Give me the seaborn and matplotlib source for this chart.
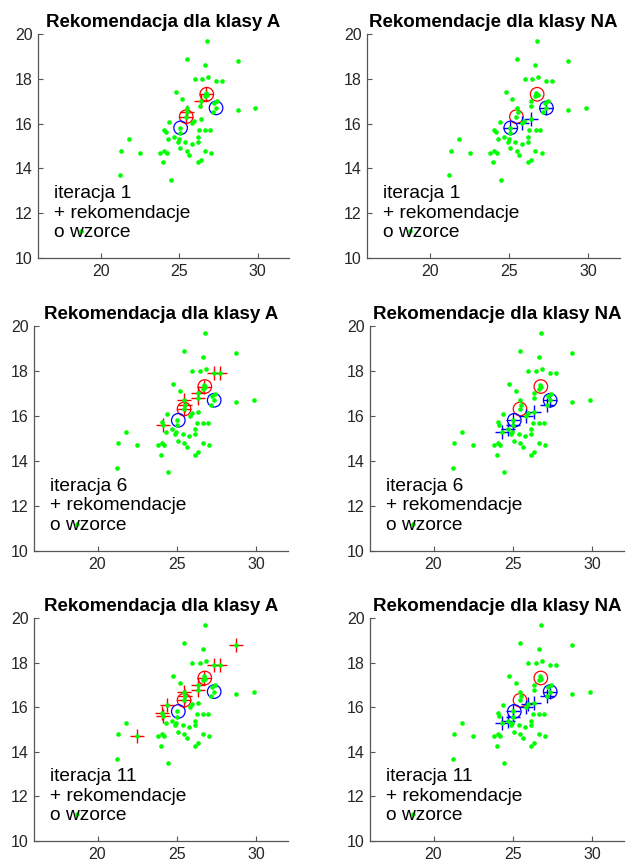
import matplotlib
matplotlib.use("Agg")
import matplotlib.pyplot as plt
import seaborn as sns
import pandas as pd

# ---------------- data ----------------
pts_x = [26.76, 25.47, 26.65, 28.72, 25.98, 26.44, 26.84, 27.35, 27.73, 24.78,
         25.18, 26.70, 26.80, 26.65, 26.36, 27.43, 27.24, 26.34, 25.47, 27.35,
         28.72, 29.83, 27.14, 25.52, 25.45, 25.94, 25.81, 26.36, 24.38, 25.03,
         24.06, 24.15, 26.25, 26.67, 26.95, 21.81, 24.67, 24.29, 25.03, 24.97,
         24.91, 25.37, 26.17, 26.17, 25.79, 21.31, 22.51, 23.79, 24.06, 24.21,
         25.07, 25.47, 25.64, 26.65, 27.05, 26.36, 26.17, 23.98, 21.20, 24.46,
         18.74]
pts_y = [19.70, 18.90, 18.60, 18.81, 18.00, 18.00, 18.09, 17.91, 17.91, 17.40,
         17.10, 17.38, 17.28, 17.22, 17.01, 16.99, 16.90, 16.79, 16.69, 16.70,
         16.60, 16.70, 16.51, 16.51, 16.31, 16.13, 16.01, 16.19, 16.09, 15.81,
         15.72, 15.61, 15.70, 15.70, 15.70, 15.30, 15.40, 15.30, 15.58, 15.30,
         15.19, 15.19, 15.40, 15.19, 15.09, 14.79, 14.69, 14.69, 14.79, 14.69,
         14.90, 14.79, 14.60, 14.79, 14.69, 14.39, 14.28, 14.28, 13.69, 13.49,
         11.19]

# class prototypes ("wzorce")
protoA_x = [25.45, 26.76]
protoA_y = [16.31, 17.31]
protoNA_x = [25.09, 27.35]
protoNA_y = [15.81, 16.70]

# recommendations with the iteration in which they first appear
recA_x = [26.70, 26.36, 25.45, 25.52, 27.35, 27.73, 26.34, 25.47, 24.15, 28.72, 24.38, 24.06, 22.51]
recA_y = [17.30, 17.01, 16.31, 16.51, 17.91, 17.91, 16.79, 16.69, 15.61, 18.81, 16.09, 15.72, 14.69]
recA_it = [1, 1, 1, 1, 6, 6, 6, 6, 6, 11, 11, 11, 11]

recNA_x = [27.35, 26.36, 25.81, 25.03, 27.14, 25.03, 24.67, 24.29, 25.94]
recNA_y = [16.70, 16.19, 16.01, 15.81, 16.51, 15.58, 15.40, 15.30, 16.13]
recNA_it = [1, 1, 1, 1, 6, 6, 6, 6, 11]

iterations = [1, 6, 11]
titles = ["Rekomendacja dla klasy A", "Rekomendacje dla klasy NA"]
annot = "iteracja {}\n+ rekomendacje\no wzorce"
xticks = [20, 25, 30]
yticks = [10, 12, 14, 16, 18, 20]

# ---------------- layout ----------------
sns.set_theme(style="white")
plt.rcParams['font.family'] = ['Liberation Sans', 'DejaVu Sans']

W, H = 626, 865
fig = plt.figure(figsize=(W / 100, H / 100), dpi=100)

# (left, right, top, bottom) in pixels for each panel
boxes = [
    [(38, 289, 34, 258), (367, 620, 34, 258)],
    [(34, 288, 326, 551), (370, 624, 326, 551)],
    [(34, 288, 618, 841), (370, 624, 618, 841)],
]

pts = pd.DataFrame({"x": pts_x, "y": pts_y})
pA = pd.DataFrame({"x": protoA_x, "y": protoA_y})
pNA = pd.DataFrame({"x": protoNA_x, "y": protoNA_y})
rA = pd.DataFrame({"x": recA_x, "y": recA_y, "it": recA_it})
rNA = pd.DataFrame({"x": recNA_x, "y": recNA_y, "it": recNA_it})

for r, it in enumerate(iterations):
    for c in range(2):
        l, rr, t, b = boxes[r][c]
        ax = fig.add_axes([l / W, 1 - b / H, (rr - l) / W, (b - t) / H])
        sns.scatterplot(data=pA, x="x", y="y", ax=ax, marker="o", s=95,
                        facecolor="none", edgecolor="red", linewidth=0.9,
                        zorder=2, legend=False)
        sns.scatterplot(data=pNA, x="x", y="y", ax=ax, marker="o", s=95,
                        facecolor="none", edgecolor="blue", linewidth=0.9,
                        zorder=2, legend=False)
        rec = rA if c == 0 else rNA
        col = "red" if c == 0 else "blue"
        sub = rec[rec["it"] <= it]
        sns.scatterplot(data=sub, x="x", y="y", ax=ax, marker="+", s=95,
                        color=col, linewidth=1.0, zorder=3, legend=False)
        sns.scatterplot(data=pts, x="x", y="y", ax=ax, color=(0, 1, 0),
                        s=11, linewidth=0, zorder=4, legend=False)

        ax.set_xlim(16, 32)
        ax.set_ylim(10, 20)
        ax.set_xticks(xticks)
        ax.set_yticks(yticks)
        ax.set_xlabel("")
        ax.set_ylabel("")
        for s in ["top", "right"]:
            ax.spines[s].set_visible(False)
        for s in ["left", "bottom"]:
            ax.spines[s].set_color("#555555")
            ax.spines[s].set_linewidth(0.9)
        ax.tick_params(direction="in", length=3.5, width=0.8, color="#555555",
                       labelsize=11.5, labelcolor="#262626", pad=4,
                       left=True, bottom=True)
        ax.set_title(titles[c], fontsize=13.5, fontweight="bold", pad=5,
                     color="black")
        ax.text(17, 12, annot.format(it), fontsize=13.8, ha="left", va="center",
                color="black", zorder=5)

fig.savefig("out.png", dpi=100)
